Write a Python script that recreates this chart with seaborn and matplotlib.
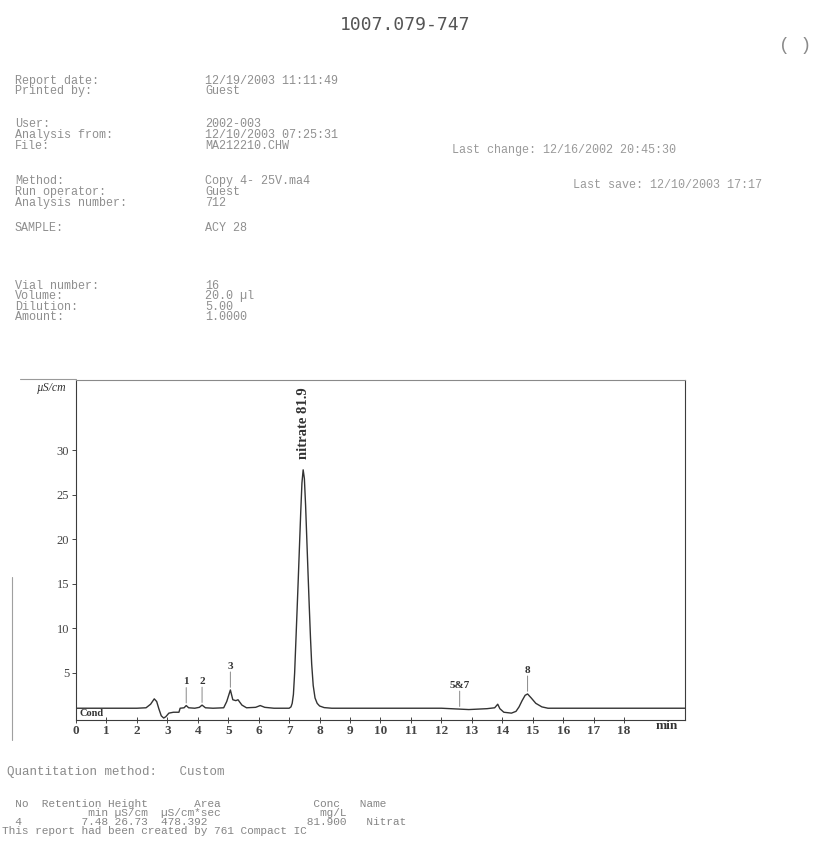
import matplotlib
matplotlib.use("Agg")
import matplotlib.pyplot as plt
from matplotlib.font_manager import FontProperties
from matplotlib.lines import Line2D
import numpy as np
import pandas as pd
import seaborn as sns

# ---- chromatogram trace: conductivity (µS/cm) against retention time (min)
time_min = [0.0, 1.0, 2.0, 2.3, 2.45, 2.57, 2.65, 2.72, 2.80, 2.88, 2.95,
            3.05, 3.2, 3.38, 3.42, 3.55, 3.62, 3.70, 3.9, 4.05, 4.14, 4.25,
            4.5, 4.85, 4.95, 5.07, 5.15, 5.25, 5.32, 5.45, 5.6, 5.9, 6.05,
            6.2, 6.5, 7.0, 7.06, 7.10, 7.14, 7.18, 7.22, 7.26, 7.30, 7.34,
            7.38, 7.42, 7.46, 7.50, 7.54, 7.58, 7.62, 7.66, 7.70, 7.74,
            7.79, 7.85, 7.92, 8.0, 8.15, 8.4, 10.0, 12.0,
            12.3, 12.6, 12.9, 13.2, 13.5, 13.75, 13.85, 13.92, 14.05, 14.3,
            14.45, 14.55, 14.65, 14.75, 14.83, 14.95, 15.1, 15.3, 15.5,
            17.0, 20.0]
cond_uScm = [1.05, 1.05, 1.05, 1.1, 1.5, 2.1, 1.8, 1.0, 0.2, -0.05, 0.1,
             0.5, 0.6, 0.6, 1.05, 1.1, 1.35, 1.1, 1.05, 1.15, 1.4, 1.1,
             1.05, 1.1, 1.8, 3.1, 2.0, 1.9, 2.0, 1.4, 1.1, 1.15, 1.35,
             1.15, 1.05, 1.05, 1.2, 1.6, 2.6, 5.0, 8.5, 12.0, 15.6, 19.3,
             23.0, 26.3, 27.78, 26.8, 23.8, 20.0, 16.2, 12.5, 9.0, 6.0,
             3.6, 2.2, 1.6, 1.3, 1.12, 1.05, 1.05, 1.05,
             1.0, 0.95, 0.9, 0.95, 1.0, 1.1, 1.5, 1.0, 0.6, 0.5,
             0.7, 1.2, 1.9, 2.5, 2.65, 2.2, 1.6, 1.2, 1.05,
             1.05, 1.05]

# ---- integrated peaks
peak_names = ["1", "2", "3", "5&7", "8"]
peak_times = [3.62, 4.14, 5.07, 12.6, 14.83]
main_peak_name = "nitrate 81.9"
main_peak_time = 7.46

x_tick_values = list(range(19))
x_tick_labels = [str(v) for v in x_tick_values]
y_tick_values = [5, 10, 15, 20, 25, 30]

# ---- report header
report_title = "1007.079-747"
header_labels = ["Report date:", "Printed by:", "User:", "Analysis from:",
                 "File:", "Method:", "Run operator:", "Analysis number:",
                 "SAMPLE:", "Vial number:", "Volume:", "Dilution:", "Amount:"]
header_values = ["12/19/2003 11:11:49", "Guest", "2002-003",
                 "12/10/2003 07:25:31", "MA212210.CHW", "Copy 4- 25V.ma4",
                 "Guest", "712", "ACY 28", "16", "20.0 \u00b5l", "5.00",
                 "1.0000"]
last_change = "Last change: 12/16/2002 20:45:30"
last_save = "Last save: 12/10/2003 17:17"

# ---- results table
quant_method = "Quantitation method:   Custom"
table_header = ["No", "Retention", "Height", "Area", "Conc", "Name"]
table_units = ["", "min", "\u00b5S/cm", "\u00b5S/cm*sec", "mg/L", ""]
table_row = ["4", "7.48", "26.73", "478.392", "81.900", "Nitrat"]
footer = "This report had been created by 761 Compact IC"

# ---------------------------------------------------------------------------
sns.set_theme(style="white")
plt.rcParams["font.family"] = ["Liberation Serif", "DejaVu Serif"]

W, H = 829, 857
fig = plt.figure(figsize=(W / 100, H / 100), dpi=100)
fig.patch.set_facecolor("white")
renderer = fig.canvas.get_renderer()


def fx(x):
    return x / W


def fy(y):
    return 1 - y / H


MONO = ["Liberation Mono", "DejaVu Sans Mono"]
SERIF = ["Liberation Serif", "DejaVu Serif"]


def line_metrics(prop):
    """Pixel height of one line and the row step at linespacing 1."""
    one = fig.text(0, 0, "lp", fontproperties=prop)
    two = fig.text(0, 0, "lp\nlp", fontproperties=prop, linespacing=1.0)
    h1 = one.get_window_extent(renderer).height
    h2 = two.get_window_extent(renderer).height
    one.remove()
    two.remove()
    return h1, h2 - h1


def text_block(x, first_row_y, lines, step_px, size, color):
    """Monospace multi-line block whose rows sit step_px apart."""
    prop = FontProperties(family=MONO, size=size)
    h1, step1 = line_metrics(prop)
    fig.text(fx(x), fy(first_row_y - h1 * 0.42), "\n".join(lines),
             fontproperties=prop, linespacing=step_px / step1,
             color=color, ha="left", va="top")


def pad_row(cells, cols):
    out = ""
    for cell, col in zip(cells, cols):
        if not cell:
            continue
        out = out.ljust(col) + cell
    return out


# title and header block
fig.text(fx(405), fy(25), report_title, family=["DejaVu Sans Mono"],
         fontsize=13, color="#555555", ha="center", va="center")
fig.text(fx(795), fy(46), "( )", family=MONO, fontsize=13,
         color="#8a8a8a", ha="center", va="center")

HEAD_C = "#8f8f8f"
groups = [(0, 2, 80, 10), (2, 5, 123, 11), (5, 8, 180, 11),
          (8, 9, 227, 10), (9, 13, 285, 10)]
for i0, i1, y0, step in groups:
    text_block(15, y0, header_labels[i0:i1], step, 8.5, HEAD_C)
    text_block(205, y0, header_values[i0:i1], step, 8.5, HEAD_C)
fig.text(fx(452), fy(150), last_change, family=MONO, fontsize=8.5,
         color="#9a9a9a", va="center")
fig.text(fx(573), fy(185), last_save, family=MONO, fontsize=8.5,
         color="#9a9a9a", va="center")

# chromatogram
ax = fig.add_axes([fx(76), fy(720), (685 - 76) / W, (720 - 380) / H])
trace = pd.DataFrame({"time": time_min, "cond": cond_uScm})
sns.lineplot(data=trace, x="time", y="cond", ax=ax, color="#333333",
             linewidth=1.0, estimator=None, sort=True)

ax.set_xlim(0, 20)
ax.set_ylim(-0.27, 37.85)
ax.set_xlabel("")
ax.set_ylabel("")
ax.set_xticks(x_tick_values)
ax.set_xticklabels(x_tick_labels)
ax.set_yticks(y_tick_values)
ax.set_yticklabels([str(v) for v in y_tick_values])
for lbl in ax.get_xticklabels():
    lbl.set_fontfamily(SERIF)
    lbl.set_fontweight("bold")
    lbl.set_fontsize(9.5)
    lbl.set_color("#333333")
for lbl in ax.get_yticklabels():
    lbl.set_fontfamily(SERIF)
    lbl.set_fontsize(9)
    lbl.set_color("#444444")
ax.tick_params(axis="x", direction="inout", length=4, width=0.7,
               pad=1.5, colors="#444444", bottom=True)
ax.tick_params(axis="y", direction="out", length=3, width=0.7,
               pad=2, colors="#444444", left=True)
for sp in ax.spines.values():
    sp.set_visible(True)
    sp.set_color("#3c3c3c")
    sp.set_linewidth(0.8)
ax.spines["top"].set_color("#8a8a8a")

ax.text(19.4, -0.27, "min", transform=ax.transData, fontfamily=SERIF,
        fontweight="bold", fontsize=9.5, color="#333333",
        ha="center", va="top")
ax.text(0.12, 0.45, "Cond", fontfamily=SERIF, fontweight="bold",
        fontsize=7.5, color="#333333", va="center", ha="left",
        bbox=dict(facecolor="white", edgecolor="none", pad=0.3))
fig.text(fx(52), fy(388), "\u00b5S/cm", family=SERIF, fontsize=8.5,
         style="italic", color="#333333", ha="center", va="center")

# peak labels with their marker ticks
for name, t in zip(peak_names, peak_times):
    top = float(np.interp(t, time_min, cond_uScm))
    ax.annotate(name, xy=(t, top), xytext=(0, 17), textcoords="offset points",
                ha="center", va="center", fontfamily=SERIF,
                fontweight="bold", fontsize=8, color="#333333")
    ax.annotate("", xy=(t, top + 0.3), xytext=(0, 11),
                textcoords="offset points",
                arrowprops=dict(arrowstyle="-", color="#888888", lw=0.7,
                                shrinkA=0, shrinkB=0))

main_top = float(np.interp(main_peak_time, time_min, cond_uScm))
ax.annotate(main_peak_name, xy=(main_peak_time, main_top), xytext=(0, 8),
            textcoords="offset points", rotation=90, ha="center",
            va="bottom", fontfamily=SERIF, fontweight="bold", fontsize=10.5,
            color="#333333")

# edge of the printed frame and page margin rule
fig.add_artist(Line2D([fx(20), fx(76)], [fy(379), fy(379)],
                      color="#9a9a9a", lw=0.8))
fig.add_artist(Line2D([fx(12), fx(12)], [fy(577), fy(740)],
                      color="#a0a0a0", lw=0.8))

# quantitation results
fig.text(fx(7), fy(772), quant_method, family=MONO, fontsize=9,
         color="#8a8a8a", va="center")
table_lines = [
    pad_row(table_header, [2, 6, 16, 29, 47, 54]),
    pad_row(table_units, [0, 13, 17, 24, 48, 0]),
    pad_row(table_row, [2, 12, 17, 24, 46, 55]),
    footer,
]
text_block(2, 803, table_lines, 9, 8, "#858585")

fig.savefig("out.png", dpi=100, facecolor="white")
